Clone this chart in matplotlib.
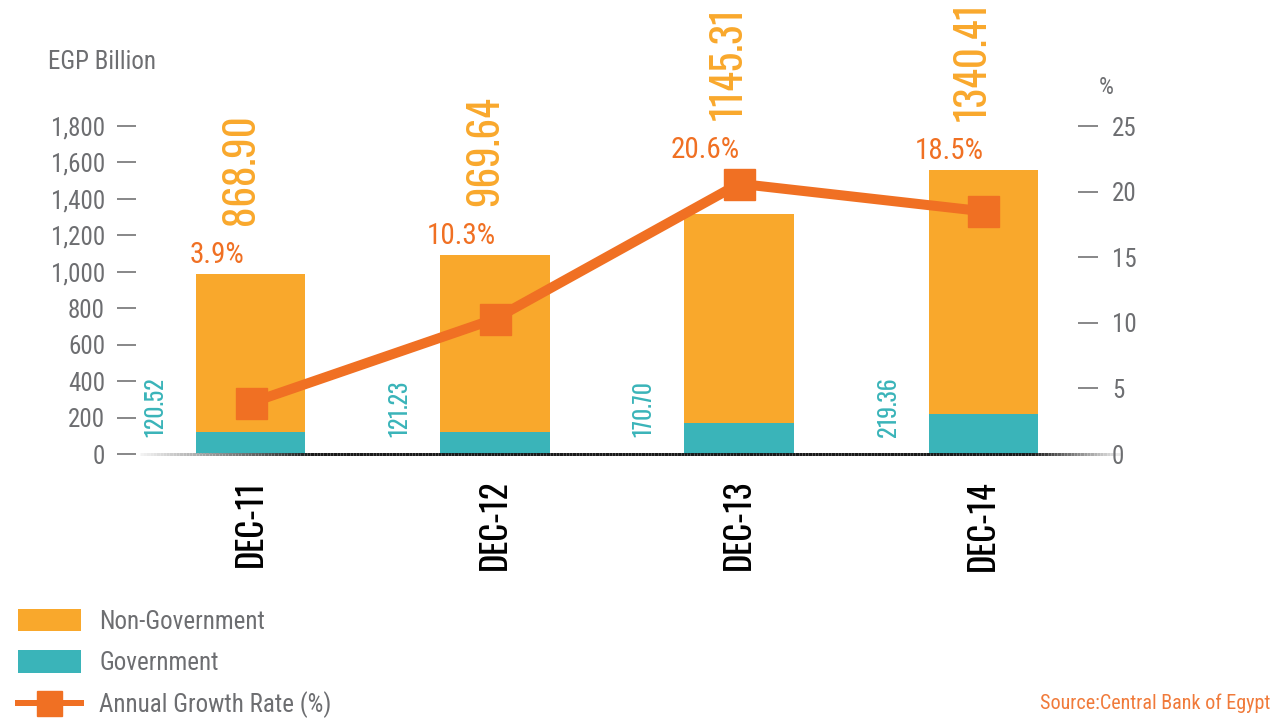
import numpy as np, matplotlib as mpl
mpl.use("Agg"); import matplotlib.pyplot as plt
from matplotlib.patches import Patch
from matplotlib.lines import Line2D
from matplotlib.collections import LineCollection

# ---------------- data ----------------
CATS=["DEC-11","DEC-12","DEC-13","DEC-14"]
GOV=[120.52,121.23,170.70,219.36]
NONGOV=[868.90,969.64,1145.31,1340.41]
GROWTH=[3.9,10.3,20.6,18.5]
LEFT_TICKS=[0,200,400,600,800,1000,1200,1400,1600,1800]
RIGHT_TICKS=[0,5,10,15,20,25]

# ---------------- style ----------------
ORANGE="#f9a82c"; TEAL="#3ab4b9"; LINE="#f07023"; GREY="#6d6e71"; TICK="#8a8a8b"
COND=["Roboto Condensed","Liberation Sans","DejaVu Sans"]
NUM=["Oswald","Roboto Condensed","DejaVu Sans"]
plt.rcParams["font.family"]=COND
W,H=1272,723
PX=72/100  # points per pixel at dpi 100

fig=plt.figure(figsize=(W/100,H/100),dpi=100)
ax=fig.add_axes([136/W,(H-454)/H,942/W,328/H])
x=np.arange(len(CATS))
ax.set_xlim(-0.471,3.389); ax.set_ylim(0,1800)
bw=0.447
ax.bar(x,GOV,bw,color=TEAL,zorder=2)
ax.bar(x,NONGOV,bw,bottom=GOV,color=ORANGE,zorder=2)
for s in ax.spines.values(): s.set_visible(False)

ax.set_yticks(LEFT_TICKS)
ax.set_yticklabels([f"{v:,}" for v in LEFT_TICKS])
ax.tick_params(axis="y",direction="out",length=19*PX,width=2*PX,color=TICK,
               labelcolor=GREY,labelsize=18,pad=12*PX)
ax.yaxis.get_major_ticks()[0].tick1line.set_visible(False)
ax.set_xticks(x)
ax.set_xticklabels(CATS,rotation=90,fontsize=25,fontweight="medium",color="black",family=NUM)
ax.tick_params(axis="x",length=0,pad=26*PX)

# baseline with faded ends
xs=np.linspace(-0.455,3.56,300)
pts=np.array([xs,np.zeros_like(xs)]).T.reshape(-1,1,2)
segs=np.concatenate([pts[:-1],pts[1:]],axis=1)
fade=np.clip(np.minimum((xs[:-1]+0.455)/0.7,(3.56-xs[:-1])/0.37),0,1)
cols=[(1-0.85*f-0.05,)*3 for f in fade]
ax.add_collection(LineCollection(segs,colors=cols,linewidths=3*PX,clip_on=False,zorder=3))

# right axis with growth rate
ax2=ax.twinx()
ax2.set_ylim(0,25); ax2.set_xlim(ax.get_xlim())
for s in ax2.spines.values(): s.set_visible(False)
ax2.set_yticks(RIGHT_TICKS)
ax2.tick_params(axis="y",direction="out",length=20*PX,width=2*PX,color=TICK,
                labelcolor=GREY,labelsize=18,pad=14*PX)
ax2.yaxis.get_major_ticks()[0].tick2line.set_visible(False)
ax2.plot(x,GROWTH,color=LINE,lw=10*PX,marker="s",ms=31*PX,solid_joinstyle="miter",
         zorder=4,clip_on=False)

# labels
scale=1800/25; half=82
for i in range(len(CATS)):
    tot=GOV[i]+NONGOV[i]
    anchor=max(tot,GROWTH[i]*scale+half)
    ax.annotate(f"{GROWTH[i]}%",(i,anchor),xytext=(-34*PX,11*PX),textcoords="offset points",
                ha="center",va="baseline",fontsize=21,color=LINE,family=COND,
                annotation_clip=False)
    ax.annotate(f"{NONGOV[i]:.2f}",(i,anchor),xytext=(-10*PX,49*PX),textcoords="offset points",
                ha="center",va="bottom",rotation=90,fontsize=29.5,color=ORANGE,family=NUM,
                fontweight="light",annotation_clip=False)
    ax.annotate(f"{GOV[i]:.2f}",(i,0),xytext=(-95*PX,17*PX),textcoords="offset points",
                ha="center",va="bottom",rotation=90,fontsize=17,color=TEAL,family=NUM,
                fontweight="light",annotation_clip=False)

fig.text(48/W,1-62/H,"EGP Billion",fontsize=18,color=GREY,va="center")
fig.text(1106/W,1-87/H,"%",fontsize=17,color=GREY,ha="center",va="center")
fig.text(1270/W,1-703/H,"Source:Central Bank of Egypt",fontsize=14.5,color="#f07a3a",
         ha="right",va="center")

handles=[Patch(facecolor=ORANGE,edgecolor="none",label="Non-Government"),
         Patch(facecolor=TEAL,edgecolor="none",label="Government"),
         Line2D([],[],color=LINE,lw=6*PX,marker="s",ms=25*PX,label="Annual Growth Rate (%)")]
leg=fig.legend(handles=handles,loc="upper left",bbox_to_anchor=(18/W,1-609/H),frameon=False,
               fontsize=18,handlelength=2.5,handleheight=1.0,labelspacing=0.66,
               handletextpad=0.75,borderpad=0,borderaxespad=0)
for t in leg.get_texts(): t.set_color(GREY)

fig.savefig("out.png",dpi=100)
